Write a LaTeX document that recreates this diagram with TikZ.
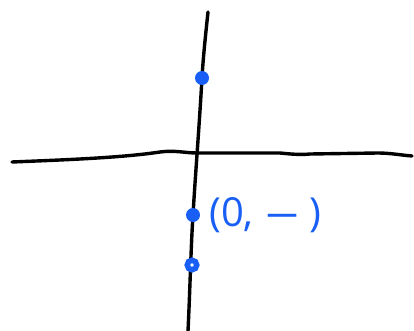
\documentclass[tikz,border=0pt]{standalone}
\usepackage{fontspec}
\usepackage{graphicx}
\newfontfamily\handfont{Open Sans}
\definecolor{penblue}{RGB}{25,95,245}
\tikzset{
  axisline/.style={line width=3.4pt, black, line cap=round, line join=round},
  dotfilled/.style={circle, fill=penblue, inner sep=0pt, minimum size=14pt},
  dotopen/.style={circle, draw=penblue, line width=5.5pt, fill=white, inner sep=0pt, minimum size=9.5pt},
  handlabel/.style={text=penblue, font=\handfont\fontsize{40}{40}\selectfont, inner sep=0pt, anchor=west}
}
\begin{document}
\begin{tikzpicture}[x=1pt,y=-1pt]
\useasboundingbox (0,0) rectangle (414,331);
% x-axis
\draw[axisline] (12,162) .. controls (60,160) and (120,158) .. (160,152)
  .. controls (175,150) and (185,153) .. (197,153) -- (280,153)
  .. controls (290,154) and (300,155) .. (310,154) -- (378,153)
  .. controls (390,153) and (400,155) .. (412,156);
% y-axis
\draw[axisline] (208,12) .. controls (205,40) and (203,60) .. (202,78)
  .. controls (199,130) and (195,180) .. (193,215)
  .. controls (191,245) and (190,290) .. (188,331);
\node[dotfilled] (p1) at (202,78) {};
\node[dotfilled] (p2) at (193,215) {};
\node[dotopen] (p3) at (192,265) {};
\node[handlabel] (lbl) at (209,215) {(0,\hspace{12pt}\scalebox{1.7}[1]{\textendash}\hspace{10pt})};
\end{tikzpicture}
\end{document}
